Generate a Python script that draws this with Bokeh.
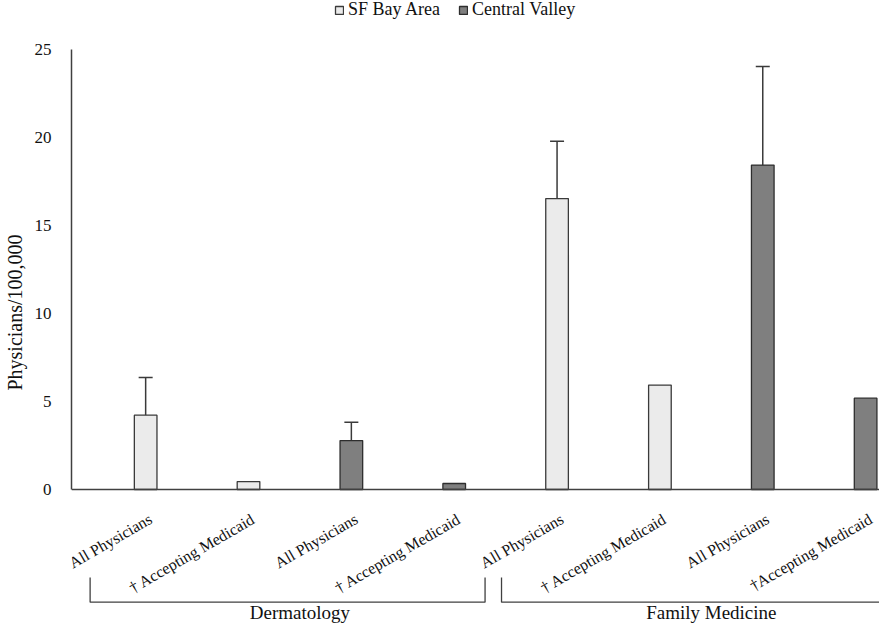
import math
from bokeh.plotting import figure
from bokeh.models import (ColumnDataSource, Range1d, FixedTicker, Span, Whisker,
                          TeeHead, Legend, LegendItem, LabelSet)
from bokeh.core.properties import value
from bokeh.embed import file_html
from bokeh.resources import INLINE

# ---- data ----
x_labels = ["All Physicians", "† Accepting Medicaid", "All Physicians", "† Accepting Medicaid",
            "All Physicians", "† Accepting Medicaid", "All Physicians", "†Accepting Medicaid"]
specialty = ["Dermatology"] * 4 + ["Family Medicine"] * 4
region = ["SF Bay Area", "SF Bay Area", "Central Valley", "Central Valley",
          "SF Bay Area", "SF Bay Area", "Central Valley", "Central Valley"]
values = [4.22, 0.45, 2.78, 0.34, 16.53, 5.93, 18.43, 5.19]
errors = [2.14, 0.0, 1.04, 0.0, 3.26, 0.0, 5.60, 0.0]
series = ["SF Bay Area", "Central Valley"]
y_ticks = [0, 5, 10, 15, 20, 25]

FONT = "Liberation Serif"
fills = {"SF Bay Area": "#ebebeb", "Central Valley": "#7f7f7f"}
lines = {"SF Bay Area": "#3a3a3a", "Central Valley": "#2e2e2e"}

idx = list(range(len(values)))

p = figure(width=879, height=624, output_backend="svg", toolbar_location=None,
           x_range=Range1d(-0.721, 7.135), y_range=Range1d(-7.67, 27.78),
           x_axis_location=None, min_border_left=62, min_border_right=0,
           min_border_top=0, min_border_bottom=0)
p.outline_line_color = None
p.grid.visible = False
p.background_fill_color = "white"

# y axis
ya = p.yaxis[0]
ya.ticker = FixedTicker(ticks=y_ticks)
ya.bounds = (0, 25)
ya.major_tick_line_color = None
ya.minor_tick_line_color = None
ya.axis_line_color = "#404040"
ya.axis_line_width = 1.5
ya.major_label_standoff = 14
ya.major_label_text_font = FONT
ya.major_label_text_font_size = "17px"
ya.major_label_text_color = "#111111"
ya.axis_label = "Physicians/100,000"
ya.axis_label_text_font = FONT
ya.axis_label_text_font_size = "20px"
ya.axis_label_text_font_style = "normal"
ya.axis_label_text_color = "#111111"
ya.axis_label_standoff = 6

# baseline at zero
p.add_layout(Span(location=0, dimension="width", line_color="#404040", line_width=1.5))

# bars
renderers = {}
for s in series:
    sel = [i for i in idx if region[i] == s]
    src = ColumnDataSource(dict(x=sel, top=[values[i] for i in sel]))
    renderers[s] = p.vbar(x="x", top="top", bottom=0, width=0.22, source=src,
                          fill_color=fills[s], line_color=lines[s], line_width=1.3)

# error bars (upper only)
esel = [i for i in idx if errors[i] > 0]
esrc = ColumnDataSource(dict(x=esel, lower=[values[i] for i in esel],
                             upper=[values[i] + errors[i] for i in esel]))
p.add_layout(Whisker(base="x", lower="lower", upper="upper", source=esrc,
                     dimension="height", line_color="#3a3a3a", line_width=1.5,
                     upper_head=TeeHead(size=14, line_color="#3a3a3a", line_width=1.5),
                     lower_head=None))

# category labels
lsrc = ColumnDataSource(dict(x=idx, y=[-1.6] * len(idx), text=x_labels))
p.add_layout(LabelSet(x="x", y="y", text="text", source=lsrc, angle=math.pi / 6,
                      x_offset=5, text_align="right", text_baseline="middle",
                      text_font=FONT, text_font_size="16px", text_color="#111111"))

# group brackets and labels
groups = []
for g in specialty:
    if g not in groups:
        groups.append(g)
bx, by, gx = [], [], []
top_b, bot_b = -5.0, -6.4
for g in groups:
    members = [i for i in idx if specialty[i] == g]
    a, b = members[0] - 0.54, members[-1] + 0.30
    bx.append([a, a, b, b])
    by.append([top_b, bot_b, bot_b, top_b])
    gx.append((members[0] + members[-1]) / 2)
p.multi_line(xs=bx, ys=by, line_color="#404040", line_width=1.3)
gsrc = ColumnDataSource(dict(x=gx, text=groups))
p.text(x="x", y=-6.98, text="text", source=gsrc, text_align="center",
       text_baseline="middle", text_font=value(FONT), text_font_size="19px",
       text_color="#111111")

# legend
legend = Legend(items=[LegendItem(label=s, renderers=[renderers[s]]) for s in series],
                orientation="horizontal", location=(263, 604),
                border_line_color=None, background_fill_alpha=0,
                label_text_font=FONT, label_text_font_size="18px",
                label_text_color="#111111",
                glyph_width=10, glyph_height=10, spacing=18, margin=0, padding=0,
                label_standoff=4)
p.add_layout(legend)

open("out.html", "w").write(file_html(p, INLINE))
